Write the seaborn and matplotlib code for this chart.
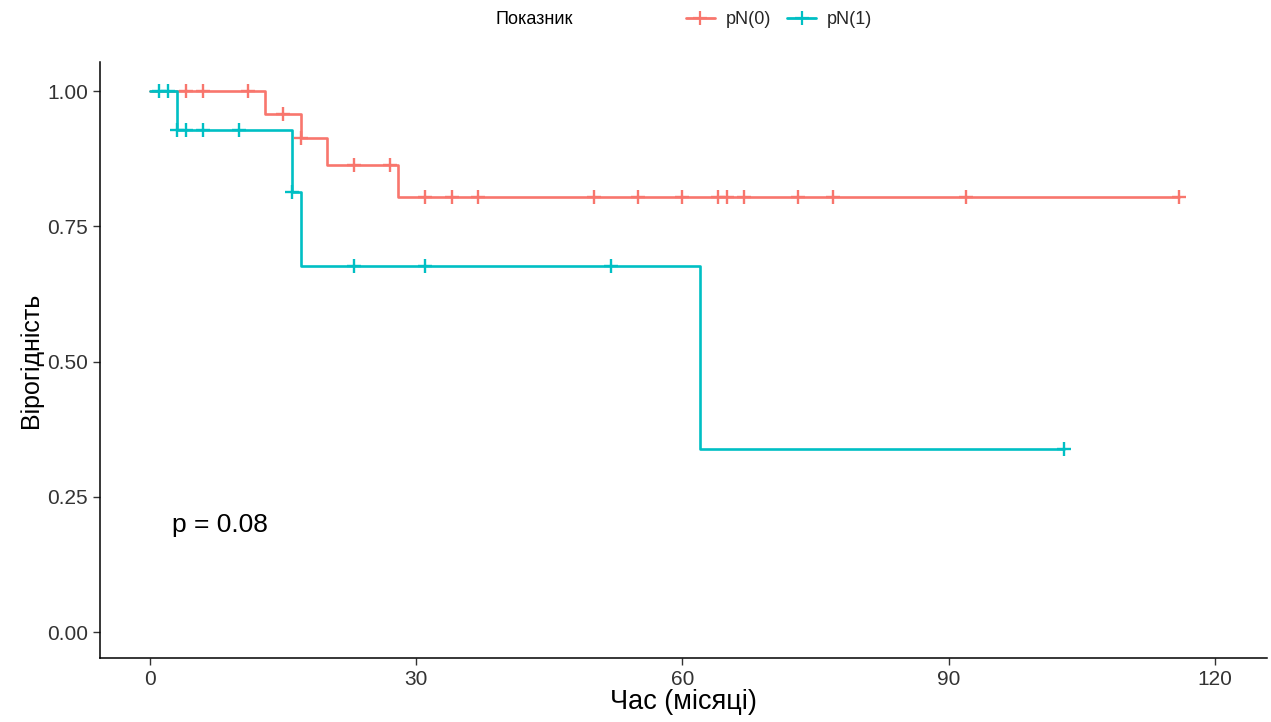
import numpy as np
import pandas as pd
import matplotlib
matplotlib.use("Agg")
import matplotlib.pyplot as plt
from matplotlib.lines import Line2D
import seaborn as sns

# ---- data ----
groups = ["pN(0)", "pN(1)"]
colors = ["#F8766D", "#00BFC4"]

# step times (months) and survival after each step
times_pn0 = [0, 13, 17, 20, 28, 116]
surv_pn0 = [1.0, 0.958, 0.913, 0.863, 0.805, 0.805]
cens_pn0 = [4, 6, 11, 15, 17, 23, 27, 31, 34, 37, 50, 55, 60, 64, 65, 67, 73, 77, 92, 116]

times_pn1 = [0, 3, 16, 17, 62, 103]
surv_pn1 = [1.0, 0.929, 0.813, 0.677, 0.339, 0.339]
cens_pn1 = [1, 2, 3, 4, 6, 10, 16, 23, 31, 52, 103]

xticks = [0, 30, 60, 90, 120]
yticks = [0.0, 0.25, 0.50, 0.75, 1.00]
ytick_labels = ["0.00", "0.25", "0.50", "0.75", "1.00"]
p_text = "p = 0.08"

# ---- build frames ----
step_rows = []
cens_rows = []
for g, t, s, c in [("pN(0)", times_pn0, surv_pn0, cens_pn0),
                   ("pN(1)", times_pn1, surv_pn1, cens_pn1)]:
    for ti, si in zip(t, s):
        step_rows.append({"time": ti, "surv": si, "group": g})
    t_arr = np.array(t)
    s_arr = np.array(s)
    for ci in c:
        idx = np.searchsorted(t_arr, ci, side="right") - 1
        cens_rows.append({"time": ci, "surv": s_arr[idx], "group": g})
steps = pd.DataFrame(step_rows)
cens = pd.DataFrame(cens_rows)

sns.set_style("white")
plt.rcParams["font.family"] = ["Liberation Sans", "DejaVu Sans"]

fig = plt.figure(figsize=(12.71, 7.22), dpi=100)
ax = fig.add_axes([100 / 1271, 1 - 658 / 722, (1267 - 100) / 1271, (658 - 62) / 722])

palette = dict(zip(groups, colors))
sns.lineplot(data=steps, x="time", y="surv", hue="group", palette=palette,
             drawstyle="steps-post", estimator=None, sort=True, linewidth=1.9,
             legend=False, ax=ax)
for g in groups:
    sub = cens[cens.group == g]
    ax.plot(sub.time, sub.surv, linestyle="none", marker="+", markersize=10,
            markeredgewidth=1.7, color=palette[g])

ax.set_xlim(-5.64, 125.9)
ax.set_ylim(-0.048, 1.054)
ax.set_xticks(xticks)
ax.set_yticks(yticks)
ax.set_yticklabels(ytick_labels)
ax.tick_params(axis="both", which="both", direction="out", length=5, width=1,
               color="#333333", labelsize=15, labelcolor="#333333", pad=3.5,
               bottom=True, left=True)
for side in ["top", "right"]:
    ax.spines[side].set_visible(False)
for side in ["left", "bottom"]:
    ax.spines[side].set_color("black")
    ax.spines[side].set_linewidth(1.1)

ax.set_xlabel("Час (місяці)", fontsize=19.5, color="black", labelpad=0)
ax.set_ylabel("Вірогідність", fontsize=18, color="black", labelpad=3)

ax.text(2.5, 0.198, p_text, fontsize=19, color="black", ha="left", va="center")

# legend at top
fig.text(534 / 1271, 1 - 20 / 722, "Показник", fontsize=13, ha="center", va="center",
         color="black")
handles = [Line2D([0], [0], color=c, lw=2, marker="+", markersize=10,
                  markeredgewidth=1.6) for c in colors]
fig.legend(handles, groups, loc="center left", bbox_to_anchor=(686 / 1271, 1 - 20 / 722),
           ncol=2, frameon=False, fontsize=13, handlelength=1.6, handletextpad=0.6,
           columnspacing=0.9, borderaxespad=0, borderpad=0)

fig.savefig("out.png", dpi=100, facecolor="white")
